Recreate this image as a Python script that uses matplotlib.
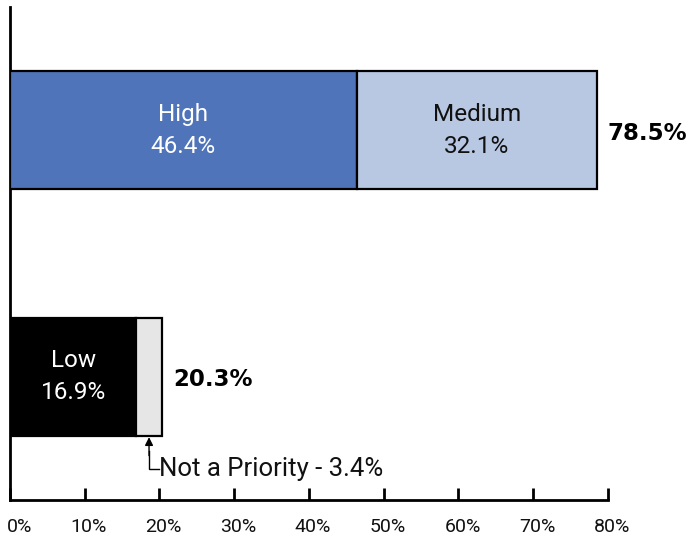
import matplotlib
matplotlib.use("Agg")
import matplotlib.pyplot as plt
import matplotlib.transforms as mtransforms

# Priority shares (percent of respondents)
first_labels = ["High", "Low"]
first_values = [46.4, 16.9]
second_labels = ["Medium", "Not a Priority"]
second_values = [32.1, 3.4]
totals = [78.5, 20.3]
tick_values = [0, 10, 20, 30, 40, 50, 60, 70, 80]
tick_labels = ["0%", "10%", "20%", "30%", "40%", "50%", "60%", "70%", "80%"]

first_colors = ["#4F74B9", "#000000"]
second_colors = ["#B8C8E3", "#E6E6E6"]
first_text = ["white", "white"]
second_text = ["#111111", "#111111"]

ypos = [1, 0]
bar_h = 0.48

fig = plt.figure(figsize=(6.87, 5.35), dpi=100)
W, H = 687, 535
ax = fig.add_axes([10 / W, 35 / H, 598 / W, 493 / H])

ax.barh(ypos, first_values, height=bar_h, color=first_colors,
        edgecolor="black", linewidth=1.6, zorder=3)
ax.barh(ypos, second_values, left=first_values, height=bar_h,
        color=second_colors, edgecolor="black", linewidth=1.6, zorder=3)

inner_font = dict(family="Roboto", fontsize=17.5)
# labels inside the larger segments
for y, lab, v, c in zip(ypos, first_labels, first_values, first_text):
    ax.text(v / 2, y, f"{lab}\n{v}%", ha="center", va="center",
            color=c, linespacing=1.5, zorder=4, **inner_font)
ax.text(first_values[0] + second_values[0] / 2, ypos[0],
        f"{second_labels[0]}\n{second_values[0]}%", ha="center", va="center",
        color=second_text[0], linespacing=1.5, zorder=4, **inner_font)

# totals at bar ends
for y, t in zip(ypos, totals):
    ax.text(t + 1.5, y - 0.012, f"{t}%", ha="left", va="center",
            fontsize=16.5, fontweight="bold", family="DejaVu Sans", color="black")

# callout for the thin segment
xc = first_values[1] + second_values[1] / 2
y_bar_bottom = ypos[1] - bar_h / 2
y_text = -0.375
ax.plot([xc, xc, xc + 1.3], [y_bar_bottom - 0.06, y_text, y_text],
        color="black", linewidth=1.0, solid_joinstyle="miter", clip_on=False)
ax.annotate("", xy=(xc, y_bar_bottom - 0.005), xytext=(xc, y_bar_bottom - 0.08),
            arrowprops=dict(arrowstyle="-|>", color="black", lw=1.0,
                            mutation_scale=12, shrinkA=0, shrinkB=0))
ax.text(xc + 1.4, y_text, f"{second_labels[1]} - {second_values[1]}%",
        ha="left", va="center", color="#111111", family="Roboto", fontsize=18.5)

ax.set_xlim(0, 80)
ax.set_ylim(-0.5, 1.5)
ax.set_xticks(tick_values)
ax.set_xticklabels([])
ax.tick_params(axis="x", direction="in", length=9, width=2)
ax.set_yticks([])

# x-axis labels, nudged right so the first one stays inside the figure
base = ax.get_xaxis_transform()
for i, (v, lab) in enumerate(zip(tick_values, tick_labels)):
    dx = 4 if i else 10
    off = mtransforms.ScaledTranslation(dx / 100, -18 / 100, fig.dpi_scale_trans)
    ax.text(v, 0, lab, transform=base + off, ha="center", va="top",
            family="Roboto", fontsize=14, color="#111111", clip_on=False)

for s in ["top", "right"]:
    ax.spines[s].set_visible(False)
ax.spines["left"].set_linewidth(2)
ax.spines["bottom"].set_linewidth(2)

fig.savefig("out.png", dpi=100)
